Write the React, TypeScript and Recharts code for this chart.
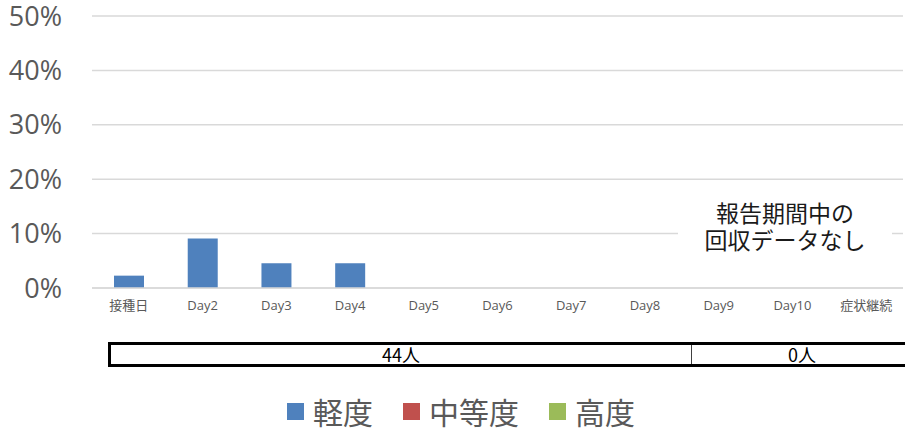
import { BarChart, Bar, XAxis, YAxis, CartesianGrid } from 'recharts'

const categories = ['接種日', 'Day2', 'Day3', 'Day4', 'Day5', 'Day6', 'Day7', 'Day8', 'Day9', 'Day10', '症状継続']
const mild = [0.0227, 0.0909, 0.0455, 0.0455, 0, 0, 0, 0, null, null, null]
const moderate = [0, 0, 0, 0, 0, 0, 0, 0, null, null, null]
const severe = [0, 0, 0, 0, 0, 0, 0, 0, null, null, null]
const yTicks = [0, 0.1, 0.2, 0.3, 0.4, 0.5]
const seriesNames = ['軽度', '中等度', '高度']
const seriesColors = ['#4f81bd', '#c0504d', '#9bbb59']
const groupLabels = ['44人', '0人']
const noDataNote = ['報告期間中の', '回収データなし']

const data = categories.map((name, i) => ({
  name,
  mild: mild[i],
  moderate: moderate[i],
  severe: severe[i],
}))

const latin = '"Open Sans", "Noto Sans CJK JP", sans-serif'
const cjk = '"Noto Sans CJK JP", sans-serif'

export default function App() {
  return (
    <div style={{ position: 'absolute', left: 0, top: 0, width: 905, height: 434, background: '#fff' }}>
      <BarChart width={905} height={320} data={data} margin={{ top: 16, right: 2, left: 0, bottom: 2 }}>
        <CartesianGrid vertical={false} stroke="#d9d9d9" strokeWidth={1.5} />
        <XAxis
          dataKey="name"
          tick={{ fontSize: 13, fill: '#595959', fontFamily: latin }}
          tickLine={false}
          tickSize={0}
          tickMargin={13}
          axisLine={{ stroke: '#d9d9d9', strokeWidth: 1.5 }}
        />
        <YAxis
          width={92}
          domain={[0, 0.5]}
          ticks={yTicks}
          tick={{ fontSize: 27, fill: '#595959', fontFamily: latin }}
          tickFormatter={(v: number) => `${Math.round(v * 100)}%`}
          tickLine={false}
          tickSize={0}
          tickMargin={30}
          axisLine={false}
        />
        <Bar dataKey="mild" stackId="a" barSize={30} fill={seriesColors[0]} name={seriesNames[0]} isAnimationActive={false} />
        <Bar dataKey="moderate" stackId="a" barSize={30} fill={seriesColors[1]} name={seriesNames[1]} isAnimationActive={false} />
        <Bar dataKey="severe" stackId="a" barSize={30} fill={seriesColors[2]} name={seriesNames[2]} isAnimationActive={false} />
      </BarChart>

      {/* no-data note over the last categories */}
      <div
        style={{
          position: 'absolute',
          left: 678,
          top: 199,
          width: 214,
          background: '#fff',
          textAlign: 'center',
          fontFamily: cjk,
          fontSize: 23,
          lineHeight: '27px',
          color: '#1a1a1a',
        }}
      >
        {noDataNote.map((t) => (
          <div key={t}>{t}</div>
        ))}
      </div>

      {/* respondent count row */}
      <div
        style={{
          position: 'absolute',
          left: 108,
          top: 342,
          width: 805,
          height: 19,
          borderTop: '3px solid #000',
          borderBottom: '3px solid #000',
          borderLeft: '3px solid #000',
          display: 'flex',
          fontFamily: cjk,
          fontSize: 18,
          lineHeight: '19px',
          color: '#000',
        }}
      >
        <div style={{ width: 580, textAlign: 'center', borderRight: '1px solid #404040' }}>{groupLabels[0]}</div>
        <div style={{ width: 220, textAlign: 'center' }}>{groupLabels[1]}</div>
      </div>

      {/* legend */}
      <div
        style={{
          position: 'absolute',
          left: 287,
          top: 392,
          display: 'flex',
          alignItems: 'center',
          fontFamily: cjk,
          fontSize: 30,
          lineHeight: '38px',
          color: '#595959',
        }}
      >
        {seriesNames.map((n, i) => (
          <div key={n} style={{ display: 'flex', alignItems: 'center', marginRight: 30 }}>
            <span style={{ width: 17, height: 17, background: seriesColors[i], marginRight: 9, display: 'inline-block' }} />
            <span>{n}</span>
          </div>
        ))}
      </div>
    </div>
  )
}
